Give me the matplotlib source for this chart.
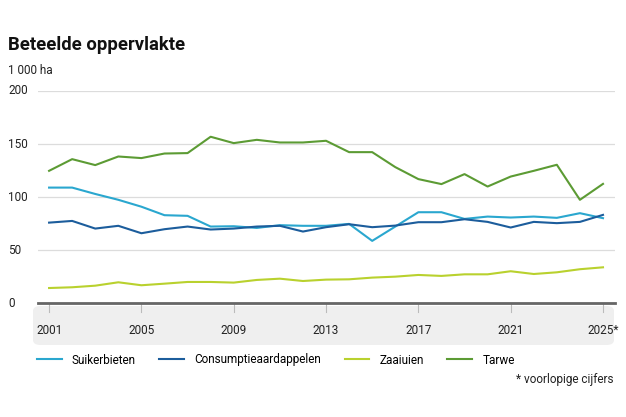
import numpy as np
import matplotlib
matplotlib.use("Agg")
import matplotlib.pyplot as plt
from matplotlib.patches import FancyBboxPatch
from matplotlib.transforms import blended_transform_factory

plt.rcParams['font.family'] = ['Roboto', 'DejaVu Sans']

# gegevens (1 000 ha)
jaren = list(range(2001, 2026))
suikerbieten = [109, 109, 103, 97.5, 91, 83, 82.4, 72.3, 72.6, 71, 73.6, 73,
                73, 74.8, 58.8, 72.3, 85.8, 85.8, 79.5, 81.7, 80.8, 81.7, 80.5, 84.9, 80.2]
consumptie = [76, 77.6, 70.4, 73, 66, 69.8, 72.3, 69.5, 70.4, 72.3, 73, 67.6,
              71.7, 74.5, 71.7, 73.2, 76.4, 76.4, 79.2, 76.7, 71.4, 76.7, 75.5, 76.7, 83.3]
zaaiuien = [14.4, 15.1, 16.6, 19.8, 17, 18.5, 20.1, 20.1, 19.5, 22, 23.2, 21,
            22.3, 22.6, 24.2, 25.1, 26.7, 25.8, 27.3, 27.3, 30.2, 27.6, 29.2, 32.1, 33.9]
tarwe = [124.8, 135.8, 130.2, 138.3, 136.8, 141.1, 141.5, 156.9, 150.9, 154, 151.5, 151.5,
         153.1, 142.4, 142.4, 128.3, 117, 112.3, 121.7, 110, 119.4, 124.8, 130.5, 97.5, 112.5]

reeksen = ["Suikerbieten", "Consumptieaardappelen", "Zaaiuien", "Tarwe"]
kleuren = ["#2aa7cf", "#1c5d9c", "#b9d12e", "#5c9b34"]
xticks = [2001, 2005, 2009, 2013, 2017, 2021, 2025]
xlabels = ["2001", "2005", "2009", "2013", "2017", "2021", "2025*"]
yticks = [0, 50, 100, 150, 200]

W, H = 626, 417
fig = plt.figure(figsize=(W / 100, H / 100), dpi=100)
ax = fig.add_axes([38 / W, 1 - 303.3 / H, (615 - 38) / W, (303.3 - 91) / H])
ax.set_zorder(2)

# grijze band onder de as
band = FancyBboxPatch((33 / W, 1 - 345 / H), (614 - 33) / W, (345 - 306) / H,
                      boxstyle="round,pad=0,rounding_size=0.012",
                      transform=fig.transFigure, facecolor="#efefef",
                      edgecolor="none", zorder=0)
fig.patches.append(band)

for naam, data, kleur in zip(reeksen, [suikerbieten, consumptie, zaaiuien, tarwe], kleuren):
    ax.plot(jaren, data, color=kleur, lw=1.5, label=naam, clip_on=False, zorder=3)

ax.set_xlim(2000.52, 2025.52)
ax.set_ylim(0, 200)
for y in yticks[1:]:
    ax.axhline(y, color="#dcdcdc", lw=0.9, zorder=1)
ax.axhline(0, color="#666666", lw=2, zorder=4, clip_on=False)

for s in ax.spines.values():
    s.set_visible(False)
ax.set_yticks([])
ax.set_xticks([])
ax.patch.set_alpha(0)

tr = blended_transform_factory(fig.transFigure, ax.transData)
for y in yticks:
    ax.text(8 / W, y, str(y), transform=tr, ha="left", va="center",
            fontsize=8.5, color="#222222")

trx = blended_transform_factory(ax.transData, fig.transFigure)
for x, lab in zip(xticks, xlabels):
    ax.plot([x, x], [1 - 304 / H, 1 - 312 / H], transform=trx, color="#bbbbbb",
            lw=0.8, clip_on=False)
    ax.text(x, 1 - 330 / H, lab, transform=trx, ha="center", va="center",
            fontsize=8.5, color="#222222")

fig.text(8 / W, 1 - 45 / H, "Beteelde oppervlakte", fontsize=13.3, fontweight="bold",
         ha="left", va="center", color="#111111")
fig.text(8 / W, 1 - 70 / H, "1 000 ha", fontsize=8.5, ha="left", va="center",
         color="#222222")

fig.legend(loc="center left", bbox_to_anchor=(37 / W, 1 - 360 / H), ncol=4,
           frameon=False, fontsize=8.5, handlelength=2.1, handletextpad=0.85,
           columnspacing=2.0, borderaxespad=0, borderpad=0)

fig.text(614 / W, 1 - 380 / H, "* voorlopige cijfers", fontsize=8.5, ha="right",
         va="center", color="#222222")

fig.savefig("out.png", dpi=100)
